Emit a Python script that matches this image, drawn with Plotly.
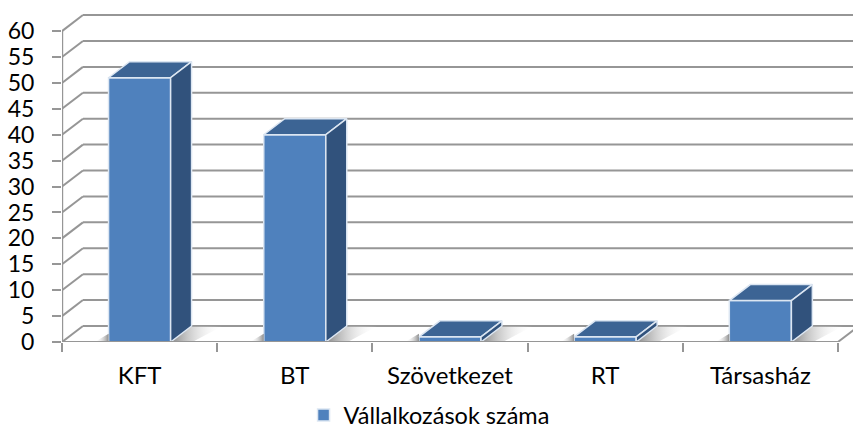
import plotly.graph_objects as go

categories = ["KFT", "BT", "Szövetkezet", "RT", "Társasház"]
values = [51, 40, 1, 1, 8]
y_ticks = [0, 5, 10, 15, 20, 25, 30, 35, 40, 45, 50, 55, 60]
series_name = "Vállalkozások száma"

# 3D look: depth of the box in axis units
dx = 0.135
dy = 3.09
bar_w = 0.4
x_max = 5.097
y_max = 66

FRONT = "#4F81BD"
TOP = "#3C6494"
SIDE = "#31527C"
EDGE = "#DCE6F2"
GRID = "#969696"

positions = [i + 0.5 for i in range(len(categories))]

fig = go.Figure()

# back wall and floor lines go below the bars, so shapes and not traces
grid_line = dict(color=GRID, width=2)
shapes = [dict(type="line", xref="x", yref="y", layer="below", x0=0, x1=0, y0=0, y1=60,
               line=dict(color=GRID, width=2.4))]
for v in y_ticks:
    shapes.append(dict(type="line", xref="x", yref="y", layer="below",
                       x0=0, y0=v, x1=dx, y1=v + dy, line=grid_line))
    shapes.append(dict(type="line", xref="x", yref="y", layer="below",
                       x0=dx, y0=v + dy, x1=x_max, y1=v + dy, line=grid_line))
shapes.append(dict(type="line", xref="x", yref="y", layer="below",
                   x0=5, y0=0, x1=5 + dx, y1=dy, line=grid_line))

# soft shadows on the floor
for p in positions:
    left = p - bar_w / 2
    right = p + bar_w / 2
    fig.add_trace(go.Scatter(
        x=[right, right + dx, right + dx + 0.2, right + 0.14, right],
        y=[0, dy, dy, 0, 0],
        mode="lines", line=dict(width=0), fill="toself", showlegend=False, hoverinfo="skip",
        fillgradient=dict(type="horizontal", colorscale=[[0, "rgba(120,120,120,0.9)"], [1, "rgba(255,255,255,0)"]]),
    ))
    fig.add_trace(go.Scatter(
        x=[left - 0.09, left, left, left - 0.09],
        y=[0, 1.6, 0, 0],
        mode="lines", line=dict(width=0), fill="toself", showlegend=False, hoverinfo="skip",
        fillgradient=dict(type="horizontal", colorscale=[[0, "rgba(255,255,255,0)"], [1, "rgba(130,130,130,0.9)"]]),
    ))

# front faces
fig.add_trace(go.Bar(x=positions, y=values, width=bar_w, name=series_name,
                     marker=dict(color=FRONT, line=dict(color=EDGE, width=1.5)),
                     showlegend=True))

# top and side faces
for p, v in zip(positions, values):
    left = p - bar_w / 2
    right = p + bar_w / 2
    fig.add_trace(go.Scatter(
        x=[left, left + dx, right + dx, right, left], y=[v, v + dy, v + dy, v, v],
        mode="lines", line=dict(color=EDGE, width=1.5), fill="toself", fillcolor=TOP,
        showlegend=False, hoverinfo="skip"))
    fig.add_trace(go.Scatter(
        x=[right, right + dx, right + dx, right, right], y=[0, dy, v + dy, v, 0],
        mode="lines", line=dict(color=EDGE, width=1.5), fill="toself", fillcolor=SIDE,
        showlegend=False, hoverinfo="skip"))

# tick marks between categories on an overlaid axis
fig.add_trace(go.Scatter(x=[0, 5], y=[0, 0], xaxis="x2", mode="lines",
                         line=dict(color=GRID, width=2), showlegend=False, hoverinfo="skip"))

fig.update_layout(
    width=853,
    height=428,
    margin=dict(l=62, r=0, t=0, b=86, autoexpand=False),
    paper_bgcolor="white",
    plot_bgcolor="white",
    font=dict(family="Lato", size=23, color="black"),
    barmode="overlay",
    xaxis=dict(range=[0, x_max], tickvals=positions, ticktext=categories, ticks="", tickangle=0,
               tickfont=dict(size=24), showgrid=False, zeroline=False, showline=False,
               ticklabelstandoff=17),
    xaxis2=dict(range=[0, x_max], overlaying="x", tickvals=[0, 1, 2, 3, 4, 5], ticks="outside",
                ticklen=9, tickwidth=2, tickcolor=GRID, showticklabels=False,
                showgrid=False, zeroline=False, showline=False),
    yaxis=dict(range=[0, y_max], tickvals=y_ticks, ticks="outside", ticklen=9, tickwidth=2,
               tickcolor=GRID, showgrid=False, zeroline=False, showline=False,
               ticklabelstandoff=13),
    shapes=shapes,
    legend=dict(x=0.503, y=-0.15, xref="container", yref="paper", xanchor="center", yanchor="top",
                font=dict(size=23.5), bgcolor="rgba(0,0,0,0)"),
)

# the page's default body margin would push the chart off the window
fig.write_html("out.html", config=dict(displayModeBar=False),
               post_script="document.body.style.margin = '0';")
